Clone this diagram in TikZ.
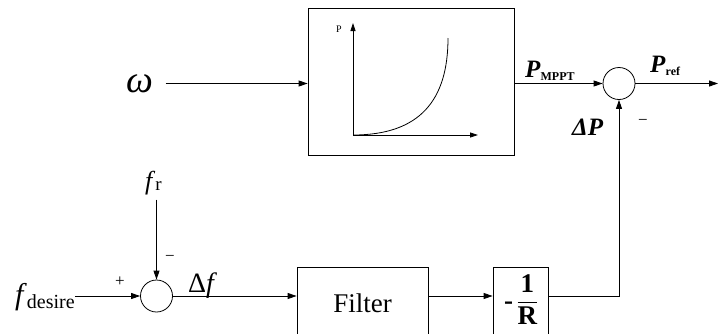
\documentclass[tikz,border=0pt]{standalone}
\usepackage{amsmath}
\usepackage{fontspec}
\setmainfont{Liberation Serif}
\usetikzlibrary{arrows.meta, positioning, calc}

\begin{document}
\begin{tikzpicture}[
    x=1pt, y=-1pt,
    block/.style={draw, rectangle, line width=0.8pt, inner sep=0pt, font=\fontsize{27}{29}\selectfont},
    sumnode/.style={draw, circle, minimum size=32pt, inner sep=0pt, line width=0.8pt},
    lbl/.style={inner sep=0pt, font=\fontsize{28}{30}\selectfont},
    plbl/.style={inner sep=0pt, font=\fontsize{25}{27}\selectfont\bfseries},
    sgn/.style={inner sep=0pt, font=\fontsize{17}{18}\selectfont},
    arrow/.style={line width=0.8pt, -{Triangle[length=9pt,width=6pt]}},
    axis/.style={line width=0.8pt, -{Triangle[length=8pt,width=5pt]}}
]
\useasboundingbox (0,0) rectangle (719,333);
\clip (0,0) rectangle (719,333);

% MPPT curve block
\node[block, minimum width=206pt, minimum height=147pt] (mppt) at (411,81.5) {};
\coordinate (origin) at (353,135);
\draw[axis] (origin) -- (353,23);
\draw[axis] (origin) -- (478,135);
\draw[line width=0.8pt] (origin) .. controls (420,135) and (448,100) .. (448,38);
\node[inner sep=0pt, font=\fontsize{10}{12}\selectfont] (plabel) at (339,29) {P};

% input omega
\node[lbl, font=\fontsize{38}{40}\selectfont] (omega) at (140,83.5) {\textit{ω}};
\draw[arrow] (omega.east) ++(12,0) -- (mppt.west |- omega);

% summing junctions
\node[sumnode] (sum1) at (619,83.5) {};
\node[sumnode] (sum2) at (156.5,296) {};
\coordinate (out) at (718,83.5);

% bottom blocks
\node[block, minimum width=131pt, minimum height=72pt] (filter) at (362.5,303) {Filter};
\node[block, minimum width=55pt, minimum height=72pt, font=\fontsize{27}{28}\selectfont\bfseries] (gain) at (520.5,303)
    {-\,\begin{tabular}{@{}c@{}}1\\[1pt]\hline\rule{0pt}{22pt}R\end{tabular}};

% labels
\node[lbl, anchor=base west, font=\fontsize{30}{32}\selectfont] (fdes) at (15,304) {\textit{f}\raisebox{-4pt}{\fontsize{20}{22}\selectfont desire}};
\node[lbl, anchor=base west, font=\fontsize{26}{28}\selectfont] (fr) at (145,189) {\textit{f}\raisebox{-1pt}{\fontsize{19}{20}\selectfont r}};
\node[lbl, anchor=base west] (df) at (188,292) {Δ\textit{f}};
\node[plbl, anchor=base west] (pmppt) at (525,77) {\textit{P}\raisebox{-3pt}{\fontsize{12}{13}\selectfont MPPT}};
\node[plbl, anchor=base west] (pref) at (650,72) {\textit{P}\raisebox{-3pt}{\fontsize{12}{13}\selectfont ref}};
\node[plbl, anchor=base west] (dp) at (572,135) {\textit{ΔP}};
\node[sgn] (plus) at (120,282) {+};
\node[sgn] (minus1) at (170,258) {−};
\node[sgn] (minus2) at (643,122) {−};

% connections
\draw[arrow] (mppt.east |- sum1) -- (sum1.west);
\draw[arrow] (sum1.east) -- (out);
\draw[arrow] (fdes.east |- sum2) -- (sum2.west);
\draw[arrow] ($(sum2 |- fr.south)+(0,5)$) -- (sum2.north);
\draw[arrow] (sum2.east) -- (filter.west |- sum2);
\draw[arrow] (filter.east |- sum2) -- (gain.west |- sum2);
\draw[arrow] (gain.east |- sum2) -| (sum1.south);

\end{tikzpicture}
\end{document}
